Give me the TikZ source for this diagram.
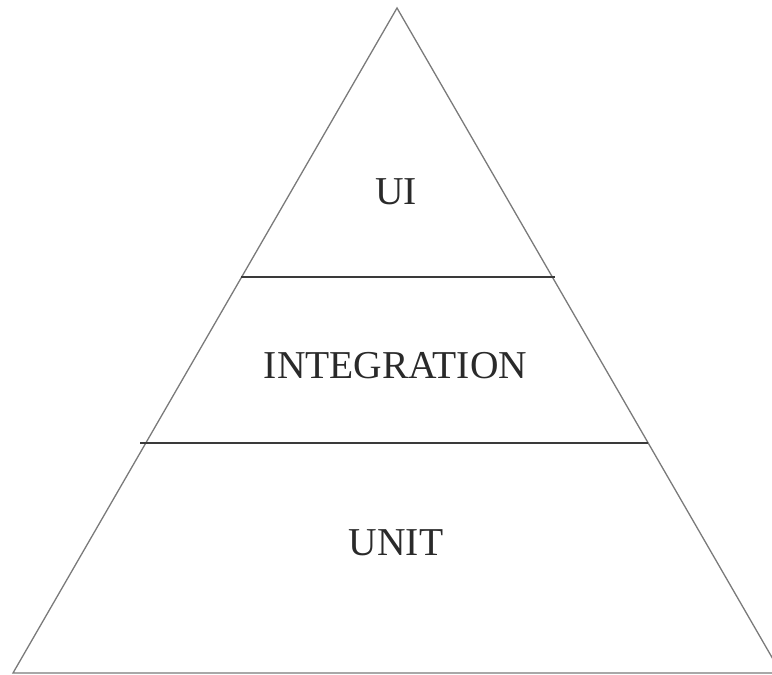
\documentclass[tikz,border=0pt]{standalone}
\usepackage{fontspec}
\setmainfont{Liberation Serif}
\definecolor{edgegray}{HTML}{7A7A7A}
\definecolor{bandline}{HTML}{3A3A3A}
\definecolor{labelgray}{HTML}{2A2A2A}
\begin{document}
\begin{tikzpicture}[x=1pt,y=-1pt,
  edge/.style={draw=edgegray,line width=1.3pt,line join=miter},
  band/.style={draw=bandline,line width=1.4pt},
  tier/.style={text=labelgray,font=\fontsize{39.5}{42}\selectfont,inner sep=0pt,anchor=base}]
  \useasboundingbox (0,0) rectangle (772,675);
  % outline of the pyramid
  \coordinate (apex) at (397,8);
  \coordinate (bl) at (13,673);
  \coordinate (br) at (781,673);
  \begin{scope}
    \clip (0,0) rectangle (772,675);
    \draw[edge] (bl) -- (apex) -- (br) -- cycle;
  \end{scope}
  % tier separators
  \coordinate (s1l) at (241,277);
  \coordinate (s1r) at (555,277);
  \coordinate (s2l) at (140,443);
  \coordinate (s2r) at (648,443);
  \draw[band] (s1l) -- (s1r);
  \draw[band] (s2l) -- (s2r);
  % tier labels
  \node[tier] (ui) at (396,204) {UI};
  \node[tier] (integration) at (395.5,378) {INTEGRATION};
  \node[tier] (unit) at (396,555) {UNIT};
\end{tikzpicture}
\end{document}
